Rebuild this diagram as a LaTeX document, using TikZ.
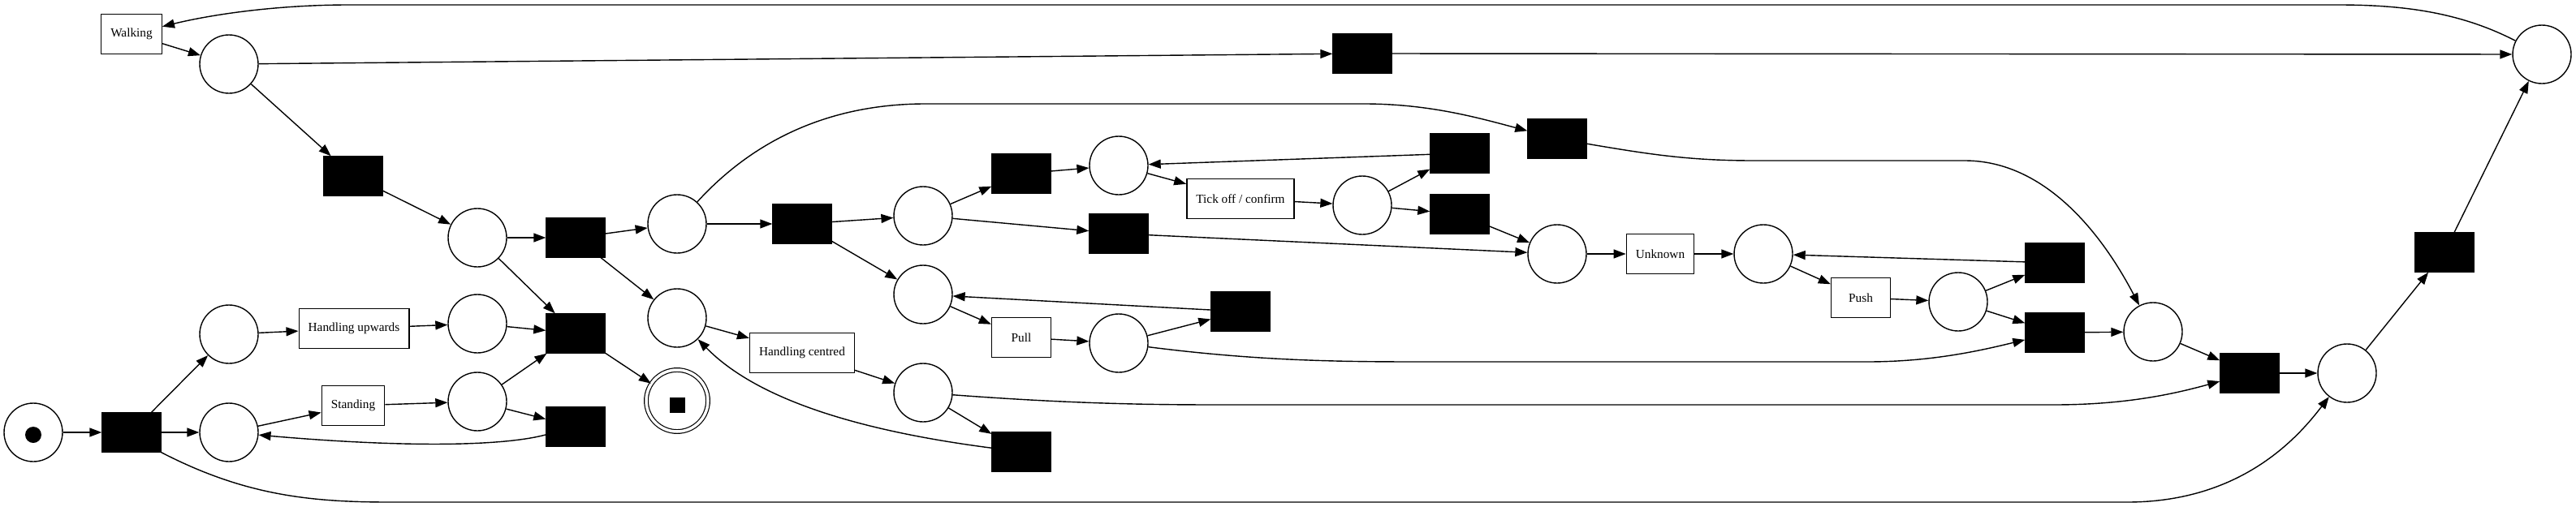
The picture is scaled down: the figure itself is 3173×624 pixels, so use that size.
\documentclass[tikz,border=0pt]{standalone}
\usepackage{fontspec}
\setmainfont{Liberation Serif}
\usetikzlibrary{arrows.meta}

\begin{document}
\begin{tikzpicture}[x=1pt,y=-1pt,
  place/.style={circle,draw,line width=1.4pt,minimum size=72pt,inner sep=0pt},
  trans/.style={rectangle,fill=black,draw=black,minimum width=73pt,minimum height=49pt,inner sep=0pt},
  act/.style={rectangle,draw,line width=1.4pt,minimum width=73pt,minimum height=49pt,inner xsep=11.5pt,font=\fontsize{15.3}{18}\selectfont},
  arc/.style={line width=1.4pt,black,-{Triangle[length=15pt,width=11pt]}}]
\useasboundingbox (0,0) rectangle (3173,624);

% places
\node[place] (p0) at (41,533) {};
\node[circle,fill=black,minimum size=20pt,inner sep=0pt] (tok) at (41,536) {};
\node[place] (pwalk) at (282,79) {};
\node[place] (pa) at (588,293) {};
\node[place] (pupin) at (282,412) {};
\node[place] (pupout) at (588,399) {};
\node[place] (pstin) at (282,533) {};
\node[place] (pstout) at (588,495) {};
\node[place] (pb) at (834,276) {};
\node[place] (pc) at (834,392) {};
\node[place,minimum size=76pt,double,double distance=3.5pt,line width=1.2pt] (pend) at (834,494) {};
\node[rectangle,fill=black,minimum size=19pt,inner sep=0pt] (sq) at (834,499) {};
\node[place] (pd) at (1137,266) {};
\node[place] (pe) at (1137,363) {};
\node[place] (ph) at (1137,484) {};
\node[place] (pf) at (1378,204) {};
\node[place] (pg) at (1378,423) {};
\node[place] (pi) at (1678,253) {};
\node[place] (pj) at (1918,313) {};
\node[place] (pk) at (2172,313) {};
\node[place] (pl) at (2412,372) {};
\node[place] (pm) at (2652,409) {};
\node[place] (pn) at (2891,460) {};
\node[place] (ptop) at (3131,67) {};

% silent transitions
\node[trans] (t0) at (162,533) {};
\node[trans] (twalk) at (435,217) {};
\node[trans] (ttop) at (1678,66) {};
\node[trans] (t1) at (709,293) {};
\node[trans] (t2) at (709,411) {};
\node[trans] (t3) at (709,526) {};
\node[trans] (t4) at (988,276) {};
\node[trans] (t5) at (1258,214) {};
\node[trans] (t6) at (1378,288) {};
\node[trans] (t7) at (1528,384) {};
\node[trans] (t8) at (1258,557) {};
\node[trans] (t9) at (1798,189) {};
\node[trans] (t10) at (1798,264) {};
\node[trans] (t11) at (1918,171) {};
\node[trans] (t12) at (2531,324) {};
\node[trans] (t13) at (2531,410) {};
\node[trans] (t14) at (2771,460) {};
\node[trans] (t15) at (3011,311) {};

% activities
\node[act] (walking) at (162,42) {Walking};
\node[act] (hup) at (436,405) {Handling upwards};
\node[act] (stand) at (435,500) {Standing};
\node[act] (hcen) at (988,435) {Handling centred};
\node[act] (pull) at (1258,416) {Pull};
\node[act] (tick) at (1528,245) {Tick off / confirm};
\node[act] (unknown) at (2045,313) {Unknown};
\node[act] (push) at (2292,367) {Push};

\draw[arc] (p0) -- (t0);
\draw[arc] (t0) -- (pupin);
\draw[arc] (t0) -- (pstin);
\draw[arc] (t0.south east) .. controls (300,610) and (380,619) .. (480,619) -- (2620,619) .. controls (2760,619) and (2830,540) .. (pn);
\draw[arc] (walking) -- (pwalk);
\draw[arc] (pwalk) -- (twalk);
\draw[arc] (pwalk) -- (ttop);
\draw[arc] (ttop) -- (ptop);
\draw[arc] (ptop) .. controls (3030,15) and (2960,6) .. (2880,6) -- (430,6) .. controls (340,6) and (260,18) .. (walking);
\draw[arc] (twalk) -- (pa);
\draw[arc] (pa) -- (t1);
\draw[arc] (pa) -- (t2);
\draw[arc] (pupin) -- (hup);
\draw[arc] (hup) -- (pupout);
\draw[arc] (pupout) -- (t2);
\draw[arc] (pstin) -- (stand);
\draw[arc] (stand) -- (pstout);
\draw[arc] (pstout) -- (t2);
\draw[arc] (pstout) -- (t3);
\draw[arc] (t3) .. controls (620,550) and (500,552) .. (pstin);
\draw[arc] (t2) -- (pend);
\draw[arc] (t1) -- (pb);
\draw[arc] (t1) -- (pc);
\draw[arc] (pb) -- (t4);
\draw[arc] (pb) .. controls (940,160) and (1040,128) .. (1140,128) -- (1680,128) .. controls (1760,128) and (1820,145) .. (t11);
\draw[arc] (pc) -- (hcen);
\draw[arc] (hcen) -- (ph);
\draw[arc] (t8) .. controls (1050,530) and (930,490) .. (pc);
\draw[arc] (ph) -- (t8);
\draw[arc] (ph) .. controls (1350,500) and (1450,499) .. (1550,499) -- (2530,499) .. controls (2620,499) and (2680,485) .. (t14);
\draw[arc] (t4) -- (pd);
\draw[arc] (t4) -- (pe);
\draw[arc] (pd) -- (t5);
\draw[arc] (pd) -- (t6);
\draw[arc] (t5) -- (pf);
\draw[arc] (pf) -- (tick);
\draw[arc] (tick) -- (pi);
\draw[arc] (pi) -- (t9);
\draw[arc] (pi) -- (t10);
\draw[arc] (t9) -- (pf);
\draw[arc] (t10) -- (pj);
\draw[arc] (t6) -- (pj);
\draw[arc] (pe) -- (pull);
\draw[arc] (pull) -- (pg);
\draw[arc] (pg) -- (t7);
\draw[arc] (t7) -- (pe);
\draw[arc] (pg) .. controls (1550,445) and (1650,446) .. (1750,446) -- (2300,446) .. controls (2380,446) and (2440,432) .. (t13);
\draw[arc] (pj) -- (unknown);
\draw[arc] (unknown) -- (pk);
\draw[arc] (pk) -- (push);
\draw[arc] (push) -- (pl);
\draw[arc] (pl) -- (t12);
\draw[arc] (pl) -- (t13);
\draw[arc] (t12) -- (pk);
\draw[arc] (t13) -- (pm);
\draw[arc] (t11) .. controls (2030,190) and (2080,198) .. (2160,198) -- (2420,198) .. controls (2520,198) and (2590,290) .. (pm);
\draw[arc] (pm) -- (t14);
\draw[arc] (t14) -- (pn);
\draw[arc] (pn) -- (t15);
\draw[arc] (t15) -- (ptop);

\end{tikzpicture}
\end{document}
